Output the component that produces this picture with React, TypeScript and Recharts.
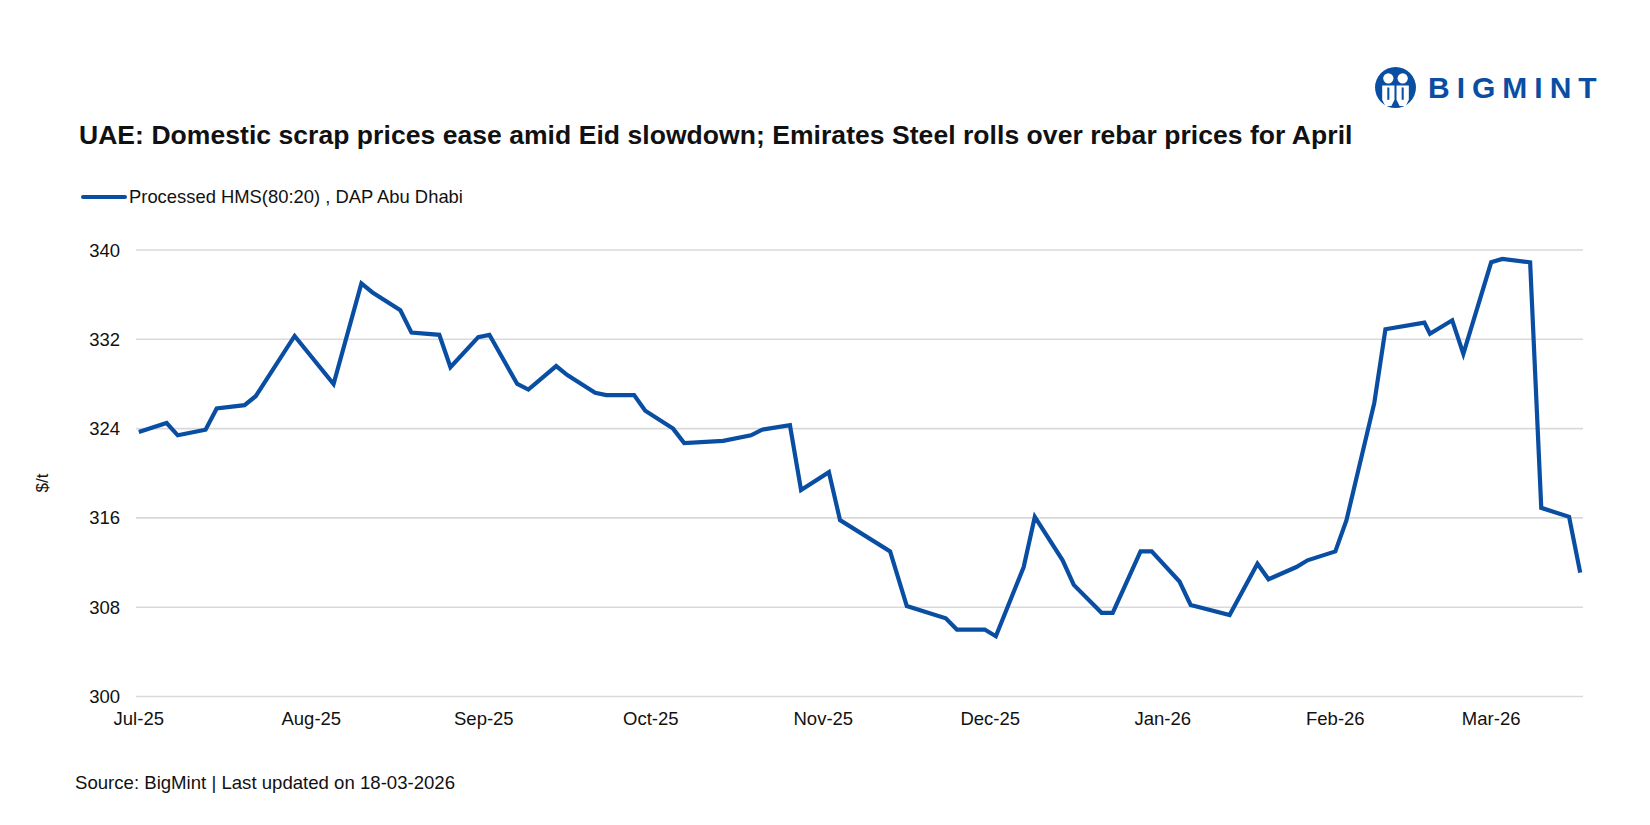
import React from 'react';
import { LineChart, Line, XAxis, YAxis, CartesianGrid } from 'recharts';

const dates = [
  '2025-07-01', '2025-07-06', '2025-07-08', '2025-07-13', '2025-07-15', '2025-07-20', '2025-07-22', '2025-07-29',
  '2025-08-05', '2025-08-10', '2025-08-12', '2025-08-17', '2025-08-19', '2025-08-24', '2025-08-26', '2025-08-31',
  '2025-09-02', '2025-09-07', '2025-09-09', '2025-09-14', '2025-09-16', '2025-09-21', '2025-09-23', '2025-09-28', '2025-09-30',
  '2025-10-05', '2025-10-07', '2025-10-14', '2025-10-19', '2025-10-21', '2025-10-26', '2025-10-28',
  '2025-11-02', '2025-11-04', '2025-11-13', '2025-11-16', '2025-11-23', '2025-11-25', '2025-11-30',
  '2025-12-02', '2025-12-07', '2025-12-09', '2025-12-14', '2025-12-16', '2025-12-21', '2025-12-23', '2025-12-28', '2025-12-30',
  '2026-01-04', '2026-01-06', '2026-01-13', '2026-01-18', '2026-01-20', '2026-01-25', '2026-01-27',
  '2026-02-01', '2026-02-03', '2026-02-08', '2026-02-10', '2026-02-17', '2026-02-18', '2026-02-22', '2026-02-24',
  '2026-03-01', '2026-03-03', '2026-03-08', '2026-03-10', '2026-03-15', '2026-03-17',
];

const hmsPrices = [
  323.7, 324.5, 323.4, 323.9, 325.8, 326.1, 326.9, 332.3,
  328.0, 337.0, 336.2, 334.6, 332.6, 332.4, 329.5, 332.2,
  332.4, 328.0, 327.5, 329.6, 328.8, 327.2, 327.0, 327.0, 325.6,
  324.0, 322.7, 322.9, 323.4, 323.9, 324.3, 318.5,
  320.1, 315.8, 313.0, 308.1, 307.0, 306.0, 306.0,
  305.4, 311.6, 316.1, 312.2, 310.0, 307.5, 307.5, 313.0, 313.0,
  310.3, 308.2, 307.3, 311.9, 310.5, 311.6, 312.2,
  313.0, 315.8, 326.3, 332.9, 333.5, 332.5, 333.7, 330.7,
  338.9, 339.2, 338.9, 316.9, 316.1, 311.1,
];

const monthTicks = [
  '2025-07-01', '2025-08-01', '2025-09-01', '2025-10-01', '2025-11-01',
  '2025-12-01', '2026-01-01', '2026-02-01', '2026-03-01',
];

const yTicks = [300, 308, 316, 324, 332, 340];

const monthNames = ['Jan', 'Feb', 'Mar', 'Apr', 'May', 'Jun', 'Jul', 'Aug', 'Sep', 'Oct', 'Nov', 'Dec'];

const BLUE = '#0a4ea3';
const DAY = 86400000;
const toTime = (s: string) => Date.parse(s + 'T00:00:00Z');

const chartData = dates.map((d, i) => ({ t: toTime(d), price: hmsPrices[i] }));
const xTicks = monthTicks.map(toTime);
const xDomain = [toTime(dates[0]) - DAY / 2, toTime(dates[dates.length - 1]) + DAY / 2];

const fmtMonth = (t: number) => {
  const d = new Date(t);
  return `${monthNames[d.getUTCMonth()]}-${String(d.getUTCFullYear()).slice(2)}`;
};

const font = '"Liberation Sans", Arial, sans-serif';

const Logo = () => (
  <div style={{ position: 'absolute', left: 1374, top: 66, display: 'flex', alignItems: 'center' }}>
    <svg width={43} height={43} viewBox="0 0 42 42">
      <circle cx={21} cy={21} r={20} fill={BLUE} />
      <circle cx={14} cy={12} r={5} fill="#fff" />
      <circle cx={28} cy={12} r={5} fill="#fff" />
      <path d="M8 19 h12 v14 l-3 6 h-6 l-3 -6 z" fill="#fff" />
      <path d="M22 19 h12 v14 l-3 6 h-6 l-3 -6 z" fill="#fff" />
      <rect x={13} y={21} width={2} height={12} fill={BLUE} />
      <rect x={27} y={21} width={2} height={12} fill={BLUE} />
    </svg>
    <span style={{ marginLeft: 11, fontFamily: font, fontWeight: 700, fontSize: 30, letterSpacing: 7, color: BLUE }}>
      BIGMINT
    </span>
  </div>
);

const App = () => {
  return (
    <div style={{ position: 'absolute', left: 0, top: 0, width: 1650, height: 825, background: '#fff', fontFamily: font, color: '#111' }}>
      <Logo />
      <div style={{ position: 'absolute', left: 79, top: 120, fontSize: 26.5, fontWeight: 700, letterSpacing: 0.05, whiteSpace: 'nowrap' }}>
        UAE: Domestic scrap prices ease amid Eid slowdown; Emirates Steel rolls over rebar prices for April
      </div>
      <div style={{ position: 'absolute', left: 81, top: 186, display: 'flex', alignItems: 'center', fontSize: 18.4, whiteSpace: 'nowrap' }}>
        <span style={{ display: 'inline-block', width: 46, height: 4.5, borderRadius: 2, background: BLUE, marginRight: 2 }} />
        Processed HMS(80:20) , DAP Abu Dhabi
      </div>
      <div style={{ position: 'absolute', left: 34, top: 473, transform: 'rotate(-90deg)', fontSize: 17 }}>$/t</div>
      <div style={{ position: 'absolute', left: 75, top: 772, fontSize: 18.6, whiteSpace: 'nowrap' }}>
        Source: BigMint | Last updated on 18-03-2026
      </div>
      <div style={{ position: 'absolute', left: 0, top: 0 }}>
        <LineChart
          width={1650}
          height={825}
          data={chartData}
          margin={{ top: 250, right: 67, bottom: 98.5, left: 0 }}
        >
          <CartesianGrid horizontal vertical={false} stroke="#d9d9d9" strokeWidth={1.6} />
          <XAxis
            dataKey="t"
            type="number"
            scale="time"
            domain={xDomain}
            ticks={xTicks}
            tickFormatter={fmtMonth}
            axisLine={false}
            tickLine={false}
            tickMargin={9}
            height={30}
            interval={0}
            tick={{ fontSize: 18.5, fill: '#111', fontFamily: font }}
          />
          <YAxis
            type="number"
            domain={[300, 340]}
            ticks={yTicks}
            axisLine={false}
            tickLine={false}
            tickMargin={10}
            width={136}
            tick={{ fontSize: 18.5, fill: '#111', fontFamily: font }}
          />
          <Line
            type="linear"
            dataKey="price"
            stroke={BLUE}
            strokeWidth={4.2}
            dot={false}
            isAnimationActive={false}
          />
        </LineChart>
      </div>
    </div>
  );
};

export default App;
